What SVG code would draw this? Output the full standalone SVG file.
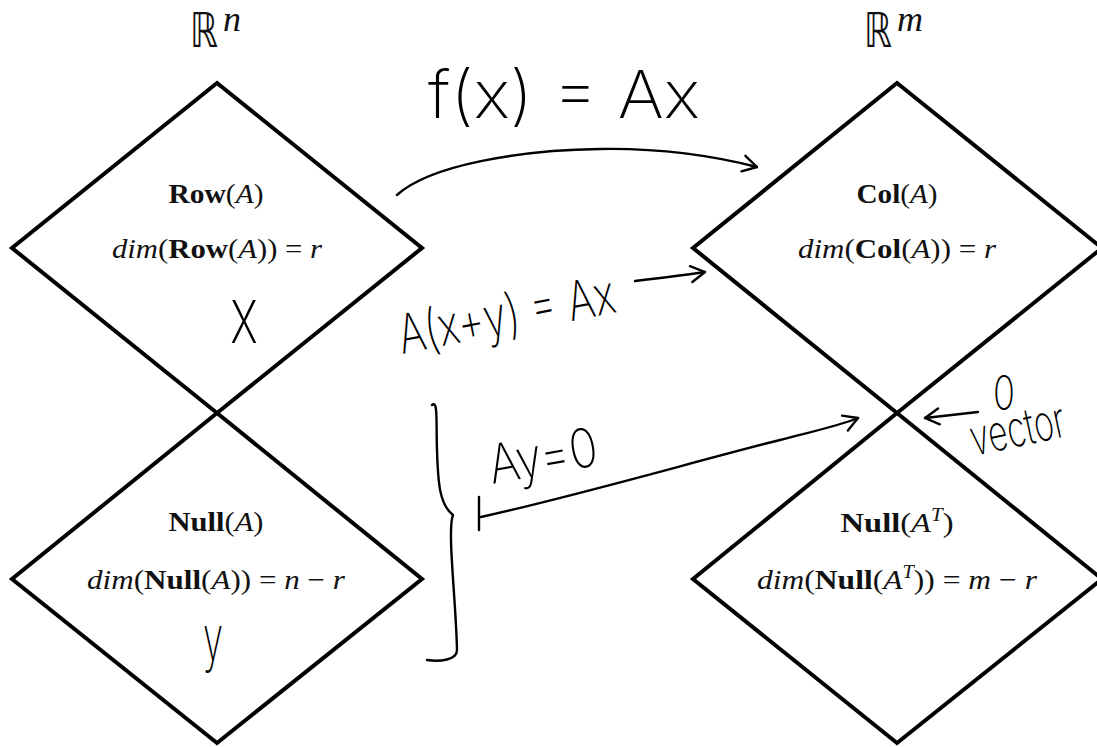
<svg xmlns="http://www.w3.org/2000/svg" width="1097" height="747" viewBox="0 0 1097 747">
<style>
.dia{fill:none;stroke:#000;stroke-width:4;stroke-linejoin:miter}
.math{font-family:"Liberation Serif","DejaVu Serif",serif;font-size:28px;fill:#111;text-anchor:middle}
.b{font-weight:bold}
.i{font-style:italic}
.space{font-family:"DejaVu Sans",sans-serif;font-size:48px;fill:#111}
.sup{font-family:"Liberation Serif","DejaVu Serif",serif;font-style:italic;font-size:36px;fill:#111}
.hand{font-family:Inter,"Open Sans","Liberation Sans",sans-serif;font-weight:200;fill:#000}
.ink{fill:none;stroke:#000;stroke-width:2.4;stroke-linecap:round;stroke-linejoin:round}
</style>
<defs>
<marker id="open" viewBox="0 0 20 20" refX="18" refY="10" markerWidth="20" markerHeight="20" markerUnits="userSpaceOnUse" orient="auto">
<path d="M4,2 L18,10 L4,18" fill="none" stroke="#000" stroke-width="2.4" stroke-linecap="round" stroke-linejoin="round"/>
</marker>
</defs>
<rect width="1097" height="747" fill="#fff"/>

<g id="label-Rn">
<text class="space" x="190" y="47" textLength="28" lengthAdjust="spacingAndGlyphs">ℝ</text>
<text class="sup" x="223" y="31">n</text>
</g>
<g id="label-Rm">
<text class="space" x="864" y="47" textLength="28" lengthAdjust="spacingAndGlyphs">ℝ</text>
<text class="sup" x="897" y="31">m</text>
</g>

<g id="row">
<polygon class="dia" points="217,83 422,248 217,413 12,248"/>
<text class="math" x="216" y="203" textLength="95" lengthAdjust="spacingAndGlyphs"><tspan class="b">Row</tspan>(<tspan class="i">A</tspan>)</text>
<text class="math" x="217" y="258" textLength="210" lengthAdjust="spacingAndGlyphs"><tspan class="i">dim</tspan>(<tspan class="b">Row</tspan>(<tspan class="i">A</tspan>)) = <tspan class="i">r</tspan></text>
<text class="hand" x="230" y="343" font-size="78" textLength="28" lengthAdjust="spacingAndGlyphs">x</text>
</g>

<g id="null">
<polygon class="dia" points="217,413 422,579 217,743 12,579"/>
<text class="math" x="216" y="531" textLength="95" lengthAdjust="spacingAndGlyphs"><tspan class="b">Null</tspan>(<tspan class="i">A</tspan>)</text>
<text class="math" x="216" y="589" textLength="258" lengthAdjust="spacingAndGlyphs"><tspan class="i">dim</tspan>(<tspan class="b">Null</tspan>(<tspan class="i">A</tspan>)) = <tspan class="i">n</tspan> − <tspan class="i">r</tspan></text>
<text class="hand" x="203" y="660" font-size="62" textLength="20" lengthAdjust="spacingAndGlyphs">y</text>
</g>

<g id="col">
<polygon class="dia" points="897,83 1102,248 897,413 693,248"/>
<text class="math" x="897" y="203" textLength="81" lengthAdjust="spacingAndGlyphs"><tspan class="b">Col</tspan>(<tspan class="i">A</tspan>)</text>
<text class="math" x="897" y="258" textLength="198" lengthAdjust="spacingAndGlyphs"><tspan class="i">dim</tspan>(<tspan class="b">Col</tspan>(<tspan class="i">A</tspan>)) = <tspan class="i">r</tspan></text>
</g>

<g id="nullAT">
<polygon class="dia" points="897,413 1102,579 897,743 693,579"/>
<text class="math" x="897" y="532" textLength="113" lengthAdjust="spacingAndGlyphs"><tspan class="b">Null</tspan>(<tspan class="i">A<tspan font-size="18" dy="-11">T</tspan></tspan><tspan dy="11">)</tspan></text>
<text class="math" x="897" y="589" textLength="280" lengthAdjust="spacingAndGlyphs"><tspan class="i">dim</tspan>(<tspan class="b">Null</tspan>(<tspan class="i">A<tspan font-size="18" dy="-11">T</tspan></tspan><tspan dy="11">)) = </tspan><tspan class="i">m</tspan> − <tspan class="i">r</tspan></text>
</g>

<g id="connectors">
<path class="ink" d="M397,195 C430,165 520,150 600,149 C660,148 710,155 757,167" marker-end="url(#open)"/>
<path class="ink" d="M635,281 C660,278 685,275 705,272" marker-end="url(#open)"/>
<path class="ink" d="M432,405 C438,400 436,420 437,450 C438,485 440,505 453,515 C447,530 456,600 457,650 C457,660 440,662 427,660"/>
<path class="ink" d="M479,497 L479,530"/>
<path class="ink" d="M481,517 C580,495 700,460 780,440 C810,432 835,427 858,418" marker-end="url(#open)"/>
<path class="ink" d="M978,412 L925,418" marker-end="url(#open)"/>
</g>

<g id="annotations">
<text class="hand" x="428" y="118" font-size="66" textLength="272" lengthAdjust="spacingAndGlyphs">f(x) = Ax</text>
<text class="hand" x="402" y="354" font-size="54" textLength="220" lengthAdjust="spacingAndGlyphs" transform="rotate(-11 402 354)">A(x+y) = Ax</text>
<text class="hand" x="492" y="484" font-size="54" textLength="110" lengthAdjust="spacingAndGlyphs" transform="rotate(-10 492 484)">Ay=0</text>
<text class="hand" x="993" y="410" font-size="48" textLength="22" lengthAdjust="spacingAndGlyphs">0</text>
<text class="hand" x="974" y="456" font-size="50" textLength="96" lengthAdjust="spacingAndGlyphs" transform="rotate(-12 974 456)">vector</text>
</g>
</svg>
